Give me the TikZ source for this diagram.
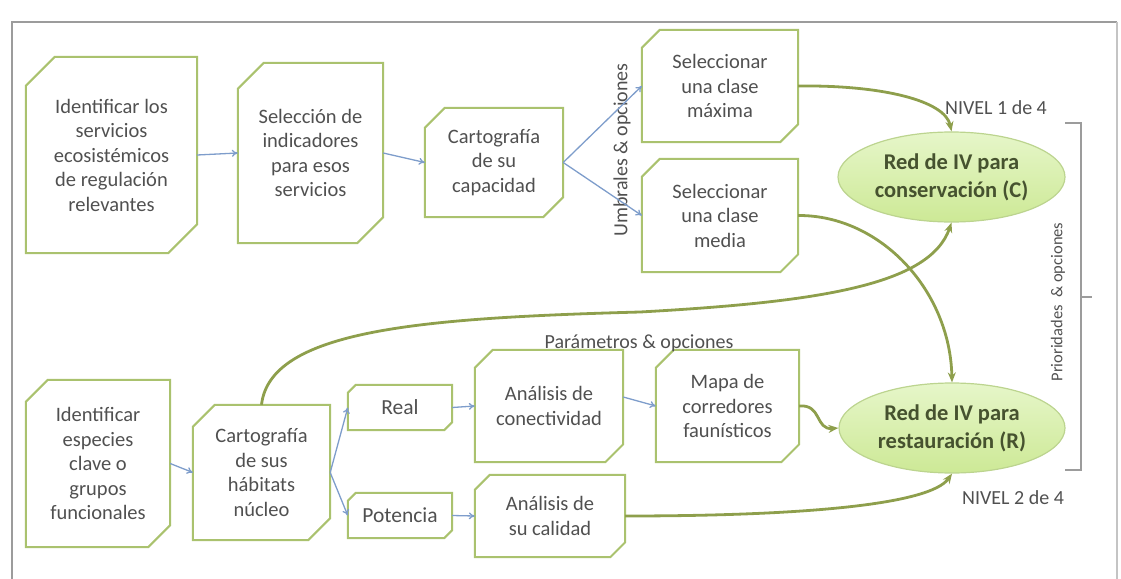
\documentclass[tikz,border=0pt]{standalone}
\usepackage{fontspec}
\setmainfont{Carlito}
\usetikzlibrary{arrows.meta,shapes.geometric}

\definecolor{boxgreen}{HTML}{AAC26E}
\definecolor{flowgreen}{HTML}{8E9F4C}
\definecolor{flowblue}{HTML}{7E9DCB}
\definecolor{txtgray}{HTML}{505050}
\definecolor{ellfillA}{HTML}{E6F6C9}
\definecolor{ellfillB}{HTML}{CDE996}
\definecolor{ellline}{HTML}{BCD48F}
\definecolor{elltext}{HTML}{46522F}
\definecolor{framegray}{HTML}{9C9C9C}

\tikzset{
  stepbox/.style={rectangle, inner sep=0pt, align=center, text=txtgray,
    font=\fontsize{20.5}{24.5}\selectfont},
  outline/.style={draw=boxgreen, line width=2pt, line join=miter},
  goal/.style={ellipse, inner sep=0pt, draw=ellline, line width=1.2pt,
    top color=ellfillA, bottom color=ellfillB, align=center, text=elltext,
    font=\bfseries\fontsize{22.5}{28}\selectfont},
  note/.style={inner sep=0pt, text=txtgray, font=\fontsize{20}{23}\selectfont},
  blueflow/.style={draw=flowblue, line width=1.3pt, -{To[length=6pt,width=7pt]}},
  greenflow/.style={draw=flowgreen, line width=2.8pt, -{Stealth[length=10pt,width=8pt]}},
  bracket/.style={draw=framegray, line width=1.2pt}
}

% outline of a box with its top-left and bottom-right corners snipped off
\newcommand\snipframe[2]{%
  \draw[outline] ([yshift=-#2pt]#1.north west) -- ([xshift=#2pt]#1.north west)
    -- (#1.north east) -- ([yshift=#2pt]#1.south east)
    -- ([xshift=-#2pt]#1.south east) -- (#1.south west) -- cycle;}

\begin{document}
\begin{tikzpicture}[x=1pt,y=-1pt]
\useasboundingbox (0,0) rectangle (1121,578);

% outer frame
\draw[framegray, line width=1.6pt] (12,600) -- (12,22) -- (1117,22);
\draw[framegray!60, line width=1.2pt] (1117,22) -- (1117,600);

% upper branch: regulating ecosystem services
\node[stepbox, minimum width=171pt, minimum height=196pt] (b1) at (111.5,155)
  {Identificar los\\servicios\\ecosistémicos\\de regulación\\relevantes};
\node[stepbox, minimum width=145pt, minimum height=180pt] (b2) at (310.5,153)
  {Selección de\\indicadores\\para esos\\servicios};
\node[stepbox, minimum width=138pt, minimum height=109pt] (b3) at (494,162.5)
  {Cartografía\\de su\\capacidad};
\node[stepbox, minimum width=156pt, minimum height=112pt] (b4) at (720,86)
  {Seleccionar\\una clase\\máxima};
\node[stepbox, minimum width=156pt, minimum height=113pt] (b5) at (720,215.5)
  {Seleccionar\\una clase\\media};

% lower branch: key species and habitats
\node[stepbox, minimum width=144pt, minimum height=167pt] (b6) at (98,463.5)
  {Identificar\\especies\\clave o\\grupos\\funcionales};
\node[stepbox, minimum width=137pt, minimum height=135pt] (b7) at (261.5,472.5)
  {Cartografía\\de sus\\hábitats\\núcleo};
\node[stepbox, minimum width=104pt, minimum height=45pt, font=\fontsize{21.5}{24}\selectfont] (b8) at (400,407.5) {Real};
\node[stepbox, minimum width=104pt, minimum height=45pt, font=\fontsize{21.5}{24}\selectfont] (b9) at (400,515.5) {Potencia};
\node[stepbox, minimum width=148pt, minimum height=112pt] (b10) at (549,406)
  {Análisis de\\conectividad};
\node[stepbox, minimum width=143pt, minimum height=112pt] (b11) at (727.5,406)
  {Mapa de\\corredores\\faunísticos};
\node[stepbox, minimum width=150pt, minimum height=82pt] (b12) at (550,516)
  {Análisis de\\su calidad};

\snipframe{b1}{29}
\snipframe{b2}{26}
\snipframe{b3}{20}
\snipframe{b4}{18}
\snipframe{b5}{18}
\snipframe{b6}{22}
\snipframe{b7}{22}
\snipframe{b8}{8}
\snipframe{b9}{8}
\snipframe{b10}{18}
\snipframe{b11}{18}
\snipframe{b12}{15}

% green infrastructure networks
\node[goal, minimum width=227pt, minimum height=90pt] (C) at (951.5,177)
  {Red de IV para\\conservación (C)};
\node[goal, minimum width=226pt, minimum height=90pt] (R) at (952,428)
  {Red de IV para\\restauración (R)};

% labels
\node[note, rotate=90] (umbral) at (622,150) {Umbrales \& opciones};
\node[note] (param) at (639,343) {Parámetros \& opciones};
\node[note] (nivel1) at (996,108) {NIVEL 1 de 4};
\node[note] (nivel2) at (1013,498) {NIVEL 2 de 4};
\node[note, rotate=90, font=\fontsize{16.5}{20}\selectfont] (prior) at (1058,302)
  {Prioridades \ \& opciones};

% bracket grouping both networks
\coordinate (brtop) at (1065,123);
\coordinate (brbot) at (1065,470);
\coordinate (brmid) at (1081,297);
\draw[bracket] (brtop) -- ++(16,0) |- (brbot);
\draw[bracket] (brmid) -- ++(11,0);

% thin flow arrows
\draw[blueflow] (b1.east) -- (b2.west);
\draw[blueflow] (b2.east) -- (b3.west);
\draw[blueflow] (b3.east) -- (b4.west);
\draw[blueflow] (b3.east) -- (b5.west);
\draw[blueflow] (b6.east) -- (b7.west);
\draw[blueflow] (b7.east) -- (b8.west);
\draw[blueflow] (b7.east) -- (b9.west);
\draw[blueflow] (b8.east) -- (b10.west);
\draw[blueflow] (b9.east) -- (b12.west);
\draw[blueflow] ([yshift=9pt]b10.east) -- (b11.west);

% thick arrows into the networks
\draw[greenflow] (b4.east) .. controls (880,85) and (945,100) .. (C.north);
\draw[greenflow] (b5.east) .. controls (880,215) and (950,290) .. (R.north);
\draw[greenflow] (b7.north) .. controls (270,330) and (420,318) .. (640,312)
  .. controls (820,302) and (930,285) .. (C.south);
\draw[greenflow] (b11.east) .. controls (822,404) and (815,430) .. (R.west);
\draw[greenflow] (b12.east) .. controls (800,516) and (930,505) .. (R.south);
\end{tikzpicture}
\end{document}
